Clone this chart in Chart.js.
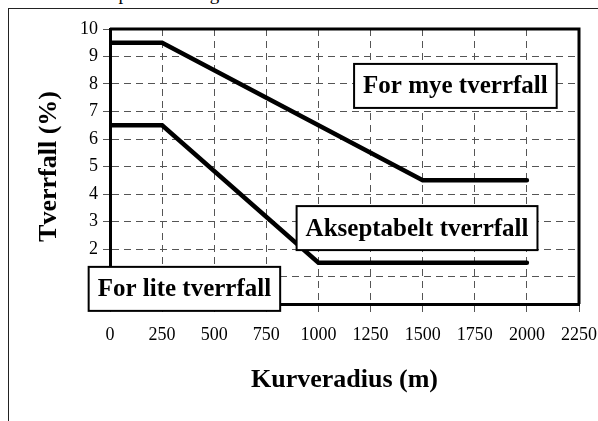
<!DOCTYPE html>
<html>
<head>
<meta charset="utf-8">
<script src="https://cdn.jsdelivr.net/npm/chart.js@4/dist/chart.umd.min.js"></script>
<style>
  html, body { margin: 0; padding: 0; background: #fff; overflow: hidden; }
  body { width: 598px; height: 421px; position: relative; }
  .pageText {
    position: absolute; left: 6px; top: -17px;
    font-family: "Liberation Serif", serif; font-size: 19px; color: #000;
    white-space: nowrap;
  }
  .frame {
    position: absolute; left: 8px; top: 8px; width: 700px; height: 500px;
    border: 1.5px solid #222;
  }
  #myCanvas { position: absolute; left: 0; top: 0; }
</style>
</head>
<body>
<div class="pageText">innebærer skarpe kurve. Figuren nedenfor.</div>
<div class="frame"></div>
<canvas id="myCanvas" width="598" height="421"></canvas>
<script>
// upper limit line (for mye tverrfall above it)
const upperRadius = [0, 250, 1500, 2000];
const upperSlope = [9.5, 9.5, 4.5, 4.5];
// lower limit line (for lite tverrfall below it)
const lowerRadius = [0, 250, 1000, 2000];
const lowerSlope = [6.5, 6.5, 1.5, 1.5];

// boxed labels, anchored in data units
const boxTexts = ["For mye tverrfall", "Akseptabelt tverrfall", "For lite tverrfall"];
const boxRadius = [1657, 1473, 357];
const boxSlope = [7.93, 2.76, 0.55];

const serif = "'Liberation Serif', 'Times New Roman', serif";

const boxLabels = {
  id: "boxLabels",
  afterDatasetsDraw(chart) {
    const ctx = chart.ctx;
    const xs = chart.scales.x;
    const ys = chart.scales.y;
    ctx.save();
    ctx.font = "bold 25px " + serif;
    ctx.textAlign = "center";
    ctx.textBaseline = "middle";
    boxTexts.forEach((txt, i) => {
      const cx = xs.getPixelForValue(boxRadius[i]);
      const cy = ys.getPixelForValue(boxSlope[i]);
      const w = ctx.measureText(txt).width + 18;
      const h = 44;
      ctx.fillStyle = "#fff";
      ctx.fillRect(cx - w / 2, cy - h / 2, w, h);
      ctx.lineWidth = 2;
      ctx.strokeStyle = "#000";
      ctx.strokeRect(cx - w / 2, cy - h / 2, w, h);
      ctx.fillStyle = "#000";
      ctx.fillText(txt, cx, cy + 1);
    });
    ctx.restore();
  },
};

// top and right edges of the plot frame
const plotFrame = {
  id: "plotFrame",
  beforeDatasetsDraw(chart) {
    const { ctx, chartArea } = chart;
    ctx.save();
    ctx.strokeStyle = "#000";
    ctx.lineWidth = 3;
    ctx.beginPath();
    ctx.moveTo(chartArea.left, chartArea.top);
    ctx.lineTo(chartArea.right, chartArea.top);
    ctx.lineTo(chartArea.right, chartArea.bottom);
    ctx.stroke();
    ctx.restore();
  },
};

const lineStyle = {
  borderColor: "#000",
  backgroundColor: "#000",
  borderWidth: 4.5,
  pointRadius: 0,
  tension: 0,
  borderCapStyle: "round",
  borderJoinStyle: "miter",
  fill: false,
};

const config = {
  type: "line",
  data: {
    datasets: [
      Object.assign({ label: "Øvre grense", data: upperRadius.map((r, i) => ({ x: r, y: upperSlope[i] })) }, lineStyle),
      Object.assign({ label: "Nedre grense", data: lowerRadius.map((r, i) => ({ x: r, y: lowerSlope[i] })) }, lineStyle),
    ],
  },
  options: {
    responsive: false,
    animation: false,
    layout: { padding: { left: 0, right: 19, top: 29, bottom: 0 } },
    plugins: { legend: { display: false }, tooltip: { enabled: false } },
    scales: {
      x: {
        type: "linear",
        min: 0,
        max: 2250,
        afterFit: (scale) => {
          scale.height = 117;
          scale.paddingLeft = 0;
          scale.paddingRight = 0;
        },
        ticks: {
          stepSize: 250,
          color: "#000",
          font: { family: serif, size: 18 },
          padding: 12,
          maxRotation: 0,
          callback: (v) => String(v),
        },
        grid: { color: "#555", lineWidth: 1, tickLength: 8 },
        border: { color: "#000", width: 3, dash: [7, 5] },
        title: {
          display: true,
          text: "Kurveradius (m)",
          color: "#000",
          font: { family: serif, size: 26, weight: "bold" },
          padding: { top: 0, bottom: 25 },
        },
      },
      y: {
        min: 0,
        max: 10,
        afterFit: (scale) => { scale.width = 110; },
        ticks: { stepSize: 1, color: "#000", font: { family: serif, size: 18 }, padding: 5 },
        grid: { color: "#555", lineWidth: 1, tickLength: 7 },
        border: { color: "#000", width: 3, dash: [7, 5] },
        title: {
          display: true,
          text: "Tverrfall (%)",
          color: "#000",
          font: { family: serif, size: 26, weight: "bold" },
          padding: { top: 34, bottom: 0 },
        },
      },
    },
  },
  plugins: [plotFrame, boxLabels],
};

const myChart = new Chart(document.querySelector("#myCanvas"), config);
</script>
</body>
</html>
